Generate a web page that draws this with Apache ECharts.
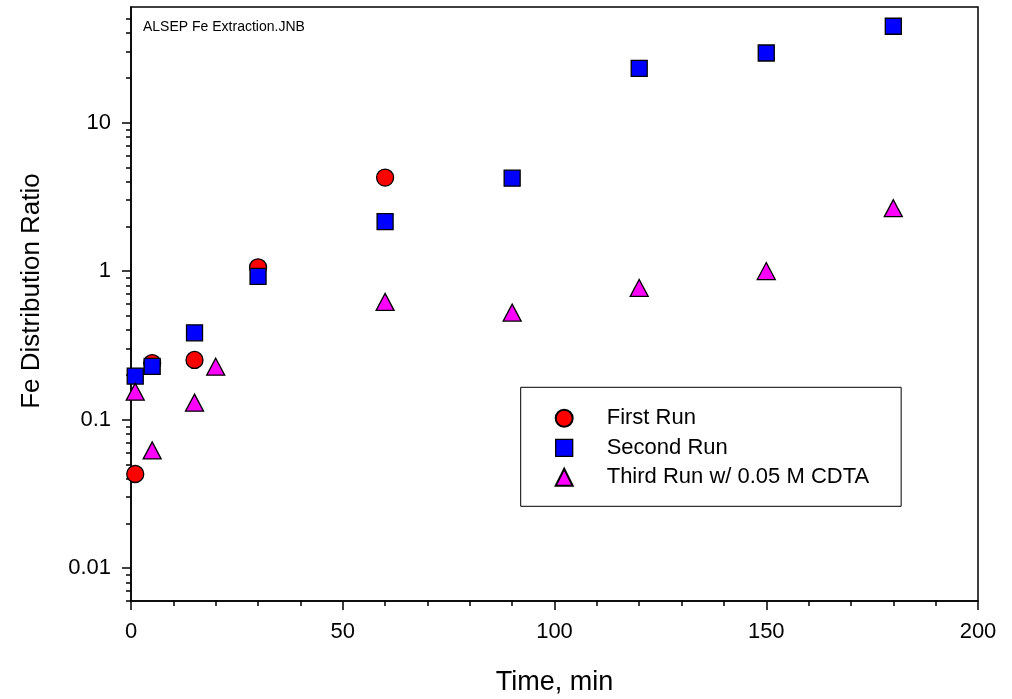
<!DOCTYPE html>
<html>
<head>
<meta charset="utf-8">
<script src="https://cdn.jsdelivr.net/npm/echarts@6/dist/echarts.min.js"></script>
<style>
html,body{margin:0;padding:0;background:#fff;}
#chart{width:1012px;height:699px;}
</style>
</head>
<body>
<div id="chart"></div>
<script>
// ---- data ----
var seriesNames = ['First Run', 'Second Run', 'Third Run w/ 0.05 M CDTA'];
var timeFirst = [1, 5, 15, 30, 60];
var valFirst = [0.043, 0.24, 0.252, 1.06, 4.26];
var timeSecond = [1, 5, 15, 30, 60, 90, 120, 150, 180];
var valSecond = [0.196, 0.228, 0.384, 0.92, 2.15, 4.22, 23.2, 29.4, 44.5];
var timeThird = [1, 5, 15, 20, 60, 90, 120, 150, 180];
var valThird = [0.154, 0.062, 0.130, 0.227, 0.62, 0.525, 0.77, 1.0, 2.65];
var yMajorTicks = [0.01, 0.1, 1, 10];
var yMinorTicks = [0.006, 0.007, 0.008, 0.009,
  0.02, 0.03, 0.04, 0.05, 0.06, 0.07, 0.08, 0.09,
  0.2, 0.3, 0.4, 0.5, 0.6, 0.7, 0.8, 0.9,
  2, 3, 4, 5, 6, 7, 8, 9,
  20, 30, 40, 50];
var yLabels = ['0.01', '0.1', '1', '10'];
var noteText = 'ALSEP Fe Extraction.JNB';

function pairs(xs, ys) { return xs.map(function (x, i) { return [x, ys[i]]; }); }

var font = 'Liberation Sans, Arial, Helvetica, sans-serif';
var chart = echarts.init(document.getElementById('chart'), null, {renderer: 'canvas'});
var symBorder = {borderColor: '#000', borderWidth: 1.3};

var option = {
  animation: false,
  backgroundColor: '#fff',
  textStyle: {fontFamily: font},
  grid: {left: 131, right: 34, top: 7, bottom: 98, containLabel: false, outerBoundsMode: 'none',
    show: true, borderColor: '#000', borderWidth: 1.5, backgroundColor: 'transparent'},
  xAxis: {
    type: 'value', min: 0, max: 200, interval: 50,
    name: 'Time, min', nameLocation: 'middle', nameGap: 68,
    nameTextStyle: {fontSize: 27, color: '#000', fontFamily: font},
    axisLine: {show: true, lineStyle: {color: '#000', width: 1.5}},
    axisTick: {show: true, inside: false, length: 9, lineStyle: {color: '#000', width: 1.5}},
    minorTick: {show: true, splitNumber: 5, length: 5, lineStyle: {color: '#000', width: 1.5}},
    axisLabel: {fontSize: 22, color: '#000', margin: 20, fontFamily: font},
    splitLine: {show: false}
  },
  yAxis: [{
    type: 'log', logBase: 10, min: 0.006, max: 60, position: 'left',
    name: 'Fe Distribution Ratio', nameLocation: 'middle', nameGap: 86, nameRotate: 90,
    nameTextStyle: {fontSize: 26, color: '#000', fontFamily: font, padding: [0, 0, 0, 26]},
    axisLine: {show: true, lineStyle: {color: '#000', width: 1.5}},
    axisTick: {show: true, inside: false, length: 9, customValues: yMajorTicks, lineStyle: {color: '#000', width: 1.5}},
    axisLabel: {fontSize: 22, color: '#000', margin: 20, fontFamily: font, customValues: yMajorTicks,
      formatter: function (v) { var i = -1; for (var k = 0; k < yMajorTicks.length; k++) { if (Math.abs(yMajorTicks[k] - v) / yMajorTicks[k] < 1e-6) i = k; } return i >= 0 ? yLabels[i] : ''; }},
    splitLine: {show: false}
  }, {
    type: 'log', logBase: 10, min: 0.006, max: 60, position: 'left', offset: 0,
    axisLine: {show: false},
    axisTick: {show: true, inside: false, length: 5, customValues: yMinorTicks, lineStyle: {color: '#000', width: 1.5}},
    axisLabel: {show: false},
    splitLine: {show: false}
  }],
  legend: {
    orient: 'vertical', left: 520.7, top: 387.3,
    padding: [20, 32, 18, 34],
    itemGap: 7.5, itemWidth: 17, itemHeight: 17,
    borderColor: '#000', borderWidth: 1, backgroundColor: '#fff',
    textStyle: {fontSize: 22, color: '#000', fontFamily: font, padding: [0, 0, 0, 29]},
    data: [
      {name: seriesNames[0], icon: 'circle'},
      {name: seriesNames[1], icon: 'rect', itemStyle: {borderWidth: 1.3}},
      {name: seriesNames[2], icon: 'triangle'}
    ]
  },
  graphic: [{
    type: 'text', left: 143, top: 20, z: 10,
    style: {text: noteText, fontSize: 14, fill: '#000', fontFamily: font}
  }],
  series: [{
    name: seriesNames[0], type: 'scatter', yAxisIndex: 0,
    symbol: 'circle', symbolSize: 17,
    itemStyle: Object.assign({color: '#ff0000', opacity: 1}, symBorder),
    data: pairs(timeFirst, valFirst)
  }, {
    name: seriesNames[1], type: 'scatter', yAxisIndex: 0,
    symbol: 'rect', symbolSize: 16,
    itemStyle: Object.assign({color: '#0000ff', opacity: 1}, symBorder),
    data: pairs(timeSecond, valSecond)
  }, {
    name: seriesNames[2], type: 'scatter', yAxisIndex: 0,
    symbol: 'triangle', symbolSize: [18, 17],
    itemStyle: Object.assign({color: '#ff00ff', opacity: 1}, symBorder),
    data: pairs(timeThird, valThird)
  }]
};
chart.setOption(option);
</script>
</body>
</html>
